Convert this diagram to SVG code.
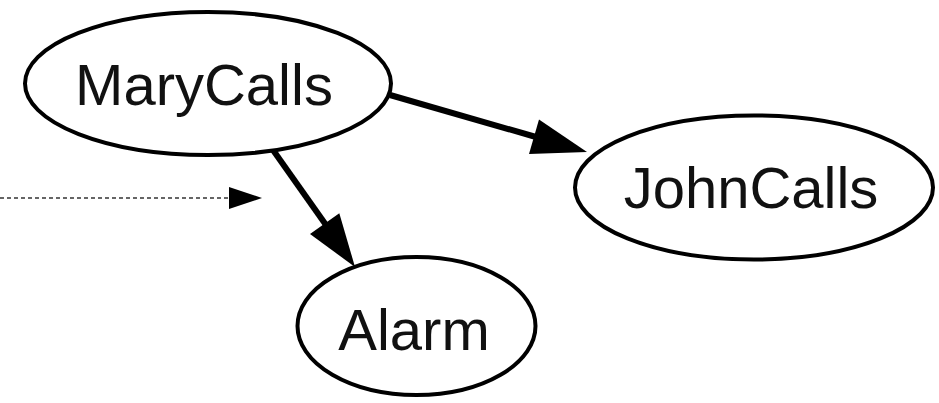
<svg xmlns="http://www.w3.org/2000/svg" width="939" height="403" viewBox="0 0 939 403">
<style>
.node ellipse{fill:#fff;stroke:#000;stroke-width:4}
.node text{font-family:"Liberation Sans",Arial,sans-serif;font-size:58px;fill:#111;text-anchor:middle}
.edge{stroke:#000;stroke-width:6;fill:none}
.head{fill:#000}
.dot{stroke:#333;stroke-width:1.3;stroke-dasharray:4 3;fill:none}
</style>
<rect width="939" height="403" fill="#fff"/>
<g id="connectors">
<line class="dot" x1="0" y1="198" x2="230" y2="198"/>
<polygon class="head" points="229,187 262,198 229,209"/>
<line class="edge" x1="390" y1="95" x2="536" y2="137"/>
<polygon class="head" points="587,152 539,119.4 529,154"/>
<line class="edge" x1="273" y1="150" x2="326" y2="225"/>
<polygon class="head" points="355,267 310,234 339.3,213.3"/>
</g>
<g id="MaryCalls" class="node">
<ellipse cx="208" cy="83.5" rx="183" ry="71.5"/>
<text x="204" y="105">MaryCalls</text>
</g>
<g id="JohnCalls" class="node">
<ellipse cx="754" cy="187.5" rx="179" ry="72"/>
<text x="751" y="208">JohnCalls</text>
</g>
<g id="Alarm" class="node">
<ellipse cx="416.5" cy="326" rx="119" ry="69"/>
<text x="414" y="350">Alarm</text>
</g>
</svg>
